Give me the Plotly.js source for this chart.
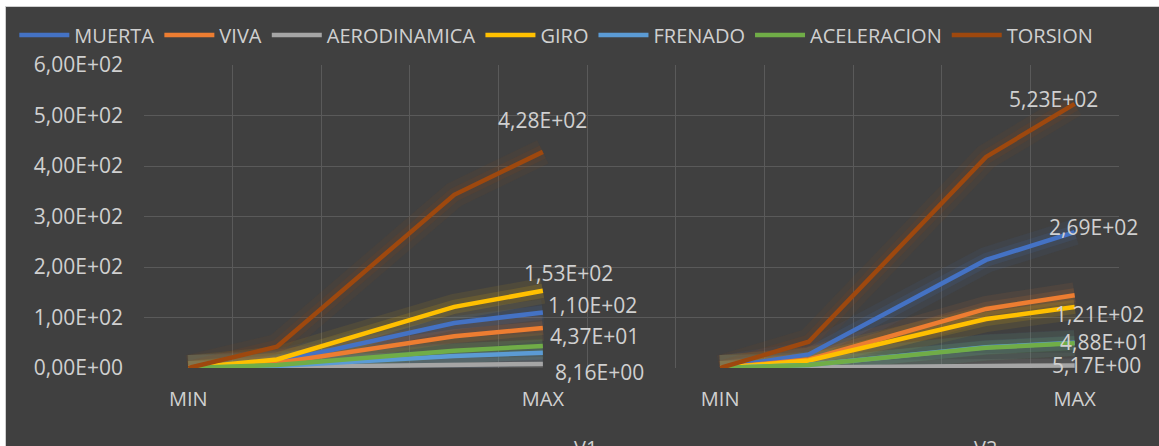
<!DOCTYPE html>
<html><head><meta charset="utf-8">
<script src="https://cdn.plot.ly/plotly-3.0.1.min.js"></script>
<style>
html,body{margin:0;padding:0;background:#fff;overflow:hidden;}
#wrap{position:absolute;left:5px;top:6px;border-left:1px solid #cfcfcf;border-top:1px solid #cfcfcf;}
#chart{width:1153px;height:439px;}
</style>
</head><body><div id="wrap"><div id="chart"></div></div>
<script>
// ---- data ----
const groups = ['V1', 'V2'];
const levels = ['MIN', 'P2', 'P3', 'P4', 'MAX'];
const levelLabels = ['MIN', '', '', '', 'MAX'];
const seriesNames = ['MUERTA', 'VIVA', 'AERODINAMICA', 'GIRO', 'FRENADO', 'ACELERACION', 'TORSION'];

const muertaV1 = [0, 12, null, 89, 110];
const muertaV2 = [0, 27, null, 214, 269];
const vivaV1 = [0, 10, null, 63, 79];
const vivaV2 = [0, 17, null, 117, 144];
const aeroV1 = [0, 1.5, null, 6, 8.16];
const aeroV2 = [0, 1, null, 4.5, 5.17];
const giroV1 = [0, 17, null, 121, 153];
const giroV2 = [0, 15, null, 97, 121];
const frenadoV1 = [0, 4, null, 24, 30];
const frenadoV2 = [0, 6, null, 41, 50];
const acelV1 = [0, 6, null, 34, 43.7];
const acelV2 = [0, 6, null, 40, 48.8];
const torsionV1 = [0, 42, null, 343, 428];
const torsionV2 = [0, 52, null, 418, 523];

const yTickValues = [0, 100, 200, 300, 400, 500, 600];

// ---- styles ----
const colors = ['#4472C4', '#ED7D31', '#A5A5A5', '#FFC000', '#5B9BD5', '#70AD47', '#9E480E'];
const textColor = '#d0d0d0';
const gridColor = '#5a5a5a';
const fontFam = '"Open Sans", "Noto Sans", sans-serif';

const seriesData = [
  [muertaV1, muertaV2], [vivaV1, vivaV2], [aeroV1, aeroV2], [giroV1, giroV2],
  [frenadoV1, frenadoV2], [acelV1, acelV2], [torsionV1, torsionV2]
];

// data labels: [seriesIndex, groupIndex, xanchor, xshift, yshift]
const labelSpec = [
  [6, 0, 'center', 0, 32],
  [3, 0, 'left', -21, 18],
  [0, 0, 'left', 3, 7],
  [5, 0, 'left', 5, 10],
  [2, 0, 'left', 10, -8],
  [6, 1, 'left', -68, 5],
  [0, 1, 'left', -28, 5],
  [3, 1, 'left', -22, -7],
  [5, 1, 'left', -17, 1],
  [2, 1, 'left', -25, 0]
];

function fmt(v) {
  const parts = v.toExponential(2).split('e');
  const e = parseInt(parts[1], 10);
  return parts[0].replace('.', ',') + 'E' + (e < 0 ? '-' : '+') + String(Math.abs(e)).padStart(2, '0');
}

// categories
const cats = [];
const catLabels = [];
groups.forEach((g, gi) => {
  levels.forEach((l, li) => { cats.push(g + ' ' + l); catLabels.push(levelLabels[li]); });
  if (gi < groups.length - 1) { cats.push('SEP' + gi); catLabels.push(''); }
});
const groupCats = groups.map(g => levels.map(l => g + ' ' + l));

const traces = [];
// glow layers
seriesData.forEach((sd, si) => {
  sd.forEach((vals, gi) => {
    [[26, 0.08], [14, 0.13]].forEach(([w, op]) => {
      traces.push({
        x: groupCats[gi], y: vals, type: 'scatter', mode: 'lines', connectgaps: true,
        line: {color: colors[si], width: w}, opacity: op, hoverinfo: 'skip', showlegend: false
      });
    });
  });
});
// main lines
seriesData.forEach((sd, si) => {
  sd.forEach((vals, gi) => {
    traces.push({
      x: groupCats[gi], y: vals, type: 'scatter', mode: 'lines', connectgaps: true,
      name: seriesNames[si], legendgroup: seriesNames[si], showlegend: gi === 0,
      line: {color: colors[si], width: 4.5}
    });
  });
});

const numFont = {family: fontFam, size: 21, color: textColor};
const wordFont = {family: fontFam, size: 20, color: textColor};

const annotations = labelSpec.map(([si, gi, xa, xs, ys]) => {
  const vals = seriesData[si][gi];
  const v = vals[vals.length - 1];
  return {
    x: groupCats[gi][levels.length - 1], y: v, xref: 'x', yref: 'y',
    text: fmt(v), showarrow: false, xanchor: xa, yanchor: 'middle',
    xshift: xs, yshift: ys, font: numFont
  };
});
// group labels (cut off by the bottom edge, as in the original)
annotations.push({x: 0.4533, y: -0.212, xref: 'paper', yref: 'paper', text: groups[0], showarrow: false,
  xanchor: 'center', yanchor: 'top', font: wordFont});
annotations.push({x: 0.8626, y: -0.212, xref: 'paper', yref: 'paper', text: groups[1], showarrow: false,
  xanchor: 'center', yanchor: 'top', font: wordFont});

const layout = {
  width: 1153, height: 439,
  paper_bgcolor: '#404040', plot_bgcolor: '#404040',
  margin: {l: 138, r: 40, t: 58, b: 78, autoexpand: false},
  font: wordFont,
  showlegend: true,
  legend: {
    orientation: 'h', xref: 'paper', yref: 'paper', x: -0.133, y: 1 + 30 / 303,
    xanchor: 'left', yanchor: 'middle', font: wordFont,
    bgcolor: 'rgba(0,0,0,0)', itemwidth: 50, traceorder: 'normal'
  },
  xaxis: {
    type: 'category', categoryorder: 'array', categoryarray: cats,
    range: [-0.5, cats.length - 0.5], tickmode: 'array', tickvals: cats, ticktext: catLabels,
    tickson: 'boundaries', ticks: '', showgrid: true, gridcolor: gridColor, gridwidth: 1,
    showline: false, zeroline: false, ticklabelstandoff: 17,
    tickfont: wordFont
  },
  yaxis: {
    range: [0, 600], tickmode: 'array', tickvals: yTickValues, ticktext: yTickValues.map(fmt),
    showgrid: true, gridcolor: gridColor, gridwidth: 1, zeroline: false, showline: false,
    ticks: '', ticklabelstandoff: 20,
    tickfont: numFont
  },
  annotations: annotations
};

Plotly.newPlot('chart', traces, layout, {displayModeBar: false, staticPlot: true});
</script>
</body></html>
